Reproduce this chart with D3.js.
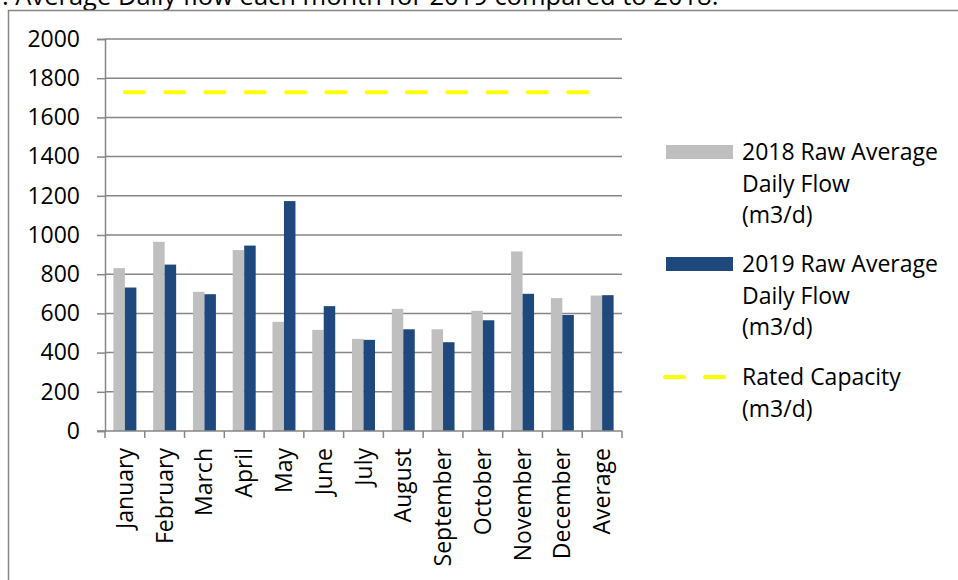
<!DOCTYPE html>
<html>
<head>
<meta charset="utf-8">
<script src="https://cdn.jsdelivr.net/npm/d3@7"></script>
<style>
  html, body { margin: 0; padding: 0; background: #fff; }
  svg { display: block; font-family: "Open Sans", sans-serif; }
</style>
</head>
<body>
<div id="chart"></div>
<script>
// chart data
const months = ['January', 'February', 'March', 'April', 'May', 'June', 'July',
    'August', 'September', 'October', 'November', 'December', 'Average'];
const flow2018 = [831, 965, 710, 923, 557, 516, 470, 623, 519, 613, 916, 678, 691];
const flow2019 = [732, 849, 698, 946, 1173, 637, 465, 519, 453, 565, 700, 592, 693];
const ratedCapacity = 1728;
const yTicks = [0, 200, 400, 600, 800, 1000, 1200, 1400, 1600, 1800, 2000];
const titleText = ': Average Daily flow each month for 2019 compared to 2018.';

const W = 958, H = 580;
const plot = { left: 105, right: 622, top: 39, bottom: 431 };
const gridColor = '#868686';
const colors = ['#BFBFBF', '#1F497D'];

const svg = d3.select('#chart').append('svg')
    .attr('width', W)
    .attr('height', H);

// title sits above the frame, only its lower part is visible
svg.append('text')
    .attr('x', 2)
    .attr('y', 5)
    .style('font-size', '25.5px')
    .style('fill', '#000')
    .text(titleText);

// outer frame
svg.append('path')
    .attr('d', `M8.5,${H} V10.5 H${W}`)
    .attr('fill', 'none')
    .attr('stroke', gridColor)
    .attr('stroke-width', 1.5);

const x = d3.scaleBand()
    .domain(months)
    .range([plot.left, plot.right]);

const xInner = d3.scaleBand()
    .domain([0, 1])
    .range([0, x.bandwidth()])
    .paddingInner(0)
    .paddingOuter(0.73);

const y = d3.scaleLinear()
    .domain([0, 2000])
    .range([plot.bottom, plot.top]);

// y axis
const yAxis = svg.append('g')
    .attr('transform', `translate(${plot.left},0)`)
    .call(d3.axisLeft(y).tickValues(yTicks).tickSize(8).tickPadding(17).tickFormat(d3.format('d')));
yAxis.attr('font-family', null).attr('font-size', null);
yAxis.select('.domain').attr('stroke', gridColor).attr('stroke-width', 1.5);
yAxis.selectAll('.tick line').attr('stroke', gridColor).attr('stroke-width', 1.5);
yAxis.selectAll('.tick text')
    .style('font-size', '23px')
    .style('fill', '#000');

// gridlines
svg.append('g')
    .selectAll('line')
    .data(yTicks.filter(d => d > 0))
    .join('line')
    .attr('x1', plot.left)
    .attr('x2', plot.right)
    .attr('y1', d => y(d))
    .attr('y2', d => y(d))
    .attr('stroke', gridColor)
    .attr('stroke-width', 1.5);

// bars
const groups = svg.append('g')
    .selectAll('g')
    .data(months.map((m, i) => ({ m, vals: [flow2018[i], flow2019[i]] })))
    .join('g')
    .attr('transform', d => `translate(${x(d.m)},0)`);

groups.selectAll('rect')
    .data(d => d.vals)
    .join('rect')
    .attr('x', (d, i) => xInner(i))
    .attr('width', xInner.bandwidth())
    .attr('y', d => y(d))
    .attr('height', d => y(0) - y(d))
    .attr('fill', (d, i) => colors[i]);

// x axis line and boundary ticks
svg.append('line')
    .attr('x1', plot.left - 8)
    .attr('x2', plot.right)
    .attr('y1', y(0))
    .attr('y2', y(0))
    .attr('stroke', gridColor)
    .attr('stroke-width', 1.5);

const bounds = months.map(m => x(m)).concat([plot.right]);
svg.append('g')
    .selectAll('line')
    .data(bounds)
    .join('line')
    .attr('x1', d => d)
    .attr('x2', d => d)
    .attr('y1', y(0))
    .attr('y2', y(0) + 7)
    .attr('stroke', gridColor)
    .attr('stroke-width', 1.5);

// category labels
svg.append('g')
    .selectAll('text')
    .data(months)
    .join('text')
    .attr('transform', d => `translate(${x(d) + x.bandwidth() / 2},${y(0) + 17}) rotate(-90)`)
    .attr('text-anchor', 'end')
    .attr('dy', '0.35em')
    .style('font-size', '23px')
    .style('fill', '#000')
    .text(d => d);

// rated capacity line
const capLine = d3.line()
    .x(d => d[0])
    .y(d => d[1]);
svg.append('path')
    .attr('d', capLine([
        [x(months[0]) + x.bandwidth() / 2, y(ratedCapacity)],
        [x(months[months.length - 1]) + x.bandwidth() / 2, y(ratedCapacity)]
    ]))
    .attr('stroke', '#FFFF00')
    .attr('stroke-width', 4)
    .attr('stroke-dasharray', '19,21.3')
    .attr('stroke-linecap', 'round')
    .attr('fill', 'none');

// legend
const legend = svg.append('g');
const legendItems = [
    { type: 'rect', color: colors[0], y: 152, lines: ['2018 Raw Average', 'Daily Flow', '(m3/d)'] },
    { type: 'rect', color: colors[1], y: 264, lines: ['2019 Raw Average', 'Daily Flow', '(m3/d)'] },
    { type: 'line', color: '#FFFF00', y: 377, lines: ['Rated Capacity', '(m3/d)'] }
];

legendItems.forEach(item => {
    if (item.type === 'rect') {
        legend.append('rect')
            .attr('x', 666)
            .attr('y', item.y - 7)
            .attr('width', 67)
            .attr('height', 14)
            .attr('fill', item.color);
    } else {
        legend.append('line')
            .attr('x1', 665)
            .attr('x2', 727)
            .attr('y1', item.y)
            .attr('y2', item.y)
            .attr('stroke', item.color)
            .attr('stroke-width', 4)
            .attr('stroke-linecap', 'round')
            .attr('stroke-dasharray', '19,21');
    }
    legend.append('text')
        .attr('x', 742)
        .attr('y', item.y)
        .style('font-size', '23px')
        .style('fill', '#000')
        .selectAll('tspan')
        .data(item.lines)
        .join('tspan')
        .attr('x', 742)
        .attr('dy', (d, i) => i === 0 ? '0.35em' : '31.5px')
        .text(d => d);
});
</script>
</body>
</html>
